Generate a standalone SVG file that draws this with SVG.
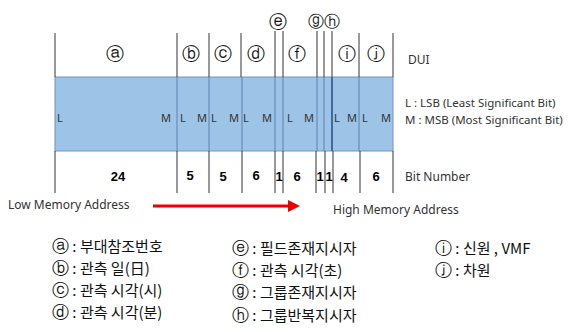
<svg xmlns="http://www.w3.org/2000/svg" width="573" height="332" viewBox="0 0 573 332">
<defs>
<style>
.t{font-family:"Noto Sans","Noto Sans CJK KR",sans-serif;fill:#333;font-size:12px}
.ls{font-family:"Noto Sans","Noto Sans CJK KR",sans-serif;fill:#333;font-size:11.5px}
.lm{font-family:"Noto Sans","Noto Sans CJK KR",sans-serif;fill:#333;font-size:11px}
.c{font-family:"DejaVu Sans",sans-serif;fill:#111;font-size:18px;text-anchor:middle}
.cs{font-family:"DejaVu Sans",sans-serif;fill:#111;font-size:16px;text-anchor:middle}
.n{font-family:"Liberation Sans",sans-serif;fill:#000;font-size:13px;font-weight:bold;text-anchor:middle}
.lg{font-family:"Noto Sans CJK KR",sans-serif;fill:#111;font-size:15px}
.cl{font-family:"DejaVu Sans",sans-serif;font-size:17px}
.ext{stroke:#333;stroke-width:1}
.in{stroke:#5a82ad;stroke-width:1}
</style>
<marker id="ah" markerWidth="4" markerHeight="4" refX="2" refY="2" orient="auto" markerUnits="strokeWidth"><path d="M0,0 L4,2 L0,4 Z" fill="#ee0000"/></marker>
</defs>
<g id="band">
<rect x="55" y="77" width="338" height="74" fill="#9dc3e6" stroke="#6c94c2" stroke-width="1"/>
</g>
<g id="connectors">
<g class="ext">
<line x1="55" y1="33" x2="55" y2="77"/><line x1="177" y1="33" x2="177" y2="77"/><line x1="209" y1="33" x2="209" y2="77"/><line x1="241" y1="33" x2="241" y2="77"/><line x1="275" y1="31" x2="275" y2="77"/><line x1="283" y1="31" x2="283" y2="77"/><line x1="317" y1="31" x2="317" y2="77"/><line x1="324" y1="31" x2="324" y2="77"/><line x1="332" y1="31" x2="332" y2="77"/><line x1="359" y1="33" x2="359" y2="77"/><line x1="393" y1="33" x2="393" y2="77"/>
<line x1="55" y1="151" x2="55" y2="193"/><line x1="177" y1="151" x2="177" y2="193"/><line x1="209" y1="151" x2="209" y2="193"/><line x1="242" y1="151" x2="242" y2="193"/><line x1="275" y1="151" x2="275" y2="193"/><line x1="283" y1="151" x2="283" y2="193"/><line x1="316" y1="151" x2="316" y2="193"/><line x1="325" y1="151" x2="325" y2="193"/><line x1="333" y1="151" x2="333" y2="193"/><line x1="360" y1="151" x2="360" y2="193"/><line x1="393" y1="151" x2="393" y2="193"/>
</g>
<g class="in">
<line x1="177" y1="77" x2="177" y2="151"/><line x1="209" y1="77" x2="209" y2="151"/><line x1="242" y1="77" x2="242" y2="151"/><line x1="275" y1="77" x2="275" y2="151"/><line x1="283" y1="77" x2="283" y2="151"/><line x1="317" y1="77" x2="317" y2="151"/><line x1="324" y1="77" x2="324" y2="151"/><line x1="332" y1="77" x2="332" y2="151" stroke="#3e6a9c" stroke-width="2"/><line x1="359" y1="77" x2="359" y2="151"/>
</g>
<line x1="153" y1="206" x2="294" y2="206" stroke="#ee0000" stroke-width="3" marker-end="url(#ah)"/>
</g>
<g id="field-labels">
<text class="c" x="115" y="60">ⓐ</text>
<text class="c" x="191" y="60">ⓑ</text>
<text class="c" x="223" y="60">ⓒ</text>
<text class="c" x="256" y="60">ⓓ</text>
<text class="c" x="278" y="28">ⓔ</text>
<text class="c" x="297" y="60">ⓕ</text>
<text class="cs" x="316" y="27">ⓖ</text>
<text class="cs" x="332" y="27">ⓗ</text>
<text class="c" x="347" y="60">ⓘ</text>
<text class="c" x="376" y="60">ⓙ</text>
<text class="t" x="408" y="64">DUI</text>
</g>
<g id="lm-labels">
<text class="lm" x="57" y="122">L</text><text class="lm" x="161" y="122">M</text>
<text class="lm" x="180" y="122">L</text><text class="lm" x="197" y="122">M</text>
<text class="lm" x="211" y="122">L</text><text class="lm" x="229" y="122">M</text>
<text class="lm" x="243" y="122">L</text><text class="lm" x="262" y="122">M</text>
<text class="lm" x="287" y="122">L</text><text class="lm" x="304" y="122">M</text>
<text class="lm" x="334" y="122">L</text><text class="lm" x="347" y="122">M</text>
<text class="lm" x="362" y="122">L</text><text class="lm" x="381" y="122">M</text>
<text class="ls" x="405" y="107">L  : LSB (Least Significant Bit)</text>
<text class="ls" x="405" y="124">M : MSB (Most Significant Bit)</text>
</g>
<g id="bit-numbers">
<text class="n" x="118" y="181">24</text>
<text class="n" x="190" y="180">5</text>
<text class="n" x="223" y="181">5</text>
<text class="n" x="256" y="180">6</text>
<text class="n" x="279" y="181">1</text>
<text class="n" x="297" y="181">6</text>
<text class="n" x="320" y="181">1</text>
<text class="n" x="329" y="181">1</text>
<text class="n" x="344" y="182">4</text>
<text class="n" x="376" y="181">6</text>
<text class="t" x="405" y="181">Bit Number</text>
</g>
<g id="memory">
<text class="t" x="8" y="209">Low Memory Address</text>
<text class="t" x="333" y="214">High Memory Address</text>
</g>
<g id="legend">
<text class="lg" x="52" y="252"><tspan class="cl">ⓐ</tspan> : 부대참조번호</text>
<text class="lg" x="52" y="274"><tspan class="cl">ⓑ</tspan> : 관측 일(日)</text>
<text class="lg" x="52" y="296"><tspan class="cl">ⓒ</tspan> : 관측 시각(시)</text>
<text class="lg" x="52" y="318"><tspan class="cl">ⓓ</tspan> : 관측 시각(분)</text>
<text class="lg" x="232" y="254"><tspan class="cl">ⓔ</tspan> : 필드존재지시자</text>
<text class="lg" x="232" y="276"><tspan class="cl">ⓕ</tspan> : 관측 시각(초)</text>
<text class="lg" x="232" y="298"><tspan class="cl">ⓖ</tspan> : 그룹존재지시자</text>
<text class="lg" x="232" y="321"><tspan class="cl">ⓗ</tspan> : 그룹반복지시자</text>
<text class="lg" x="435" y="254"><tspan class="cl">ⓘ</tspan> : 신원 , VMF</text>
<text class="lg" x="435" y="276"><tspan class="cl">ⓙ</tspan> : 차원</text>
</g>
</svg>
